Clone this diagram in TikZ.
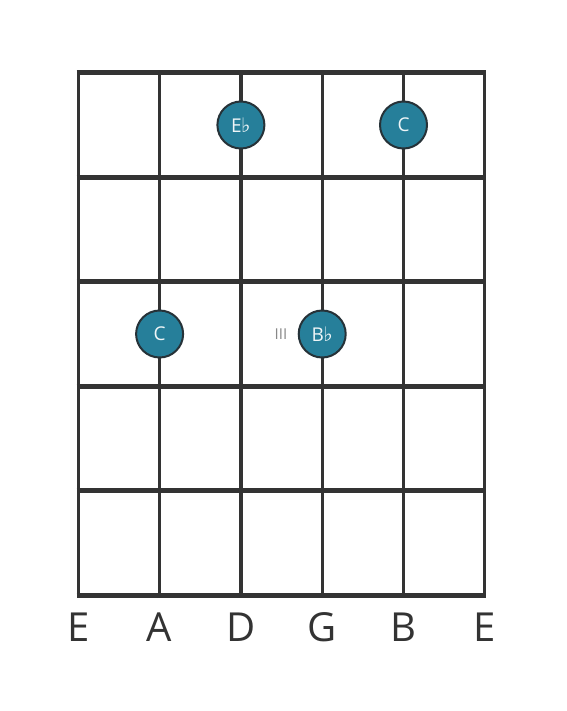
\documentclass[tikz,border=0pt]{standalone}
\usepackage{fontspec}
\setmainfont{Open Sans}
\newfontfamily\symfont{DejaVu Sans}
\definecolor{linec}{HTML}{333333}
\definecolor{dotfill}{HTML}{267F9A}
\definecolor{dotedge}{HTML}{263238}
\definecolor{lblgray}{HTML}{888888}
\newcommand{\flt}{{\symfont\fontsize{20pt}{20pt}\selectfont\raisebox{0pt}{♭}}}
\begin{document}
\begin{tikzpicture}[x=1pt,y=-1pt,
  stringline/.style={draw=linec,line width=3.2pt},
  fretline/.style={draw=linec,line width=5pt},
  notedot/.style={circle,fill=dotfill,draw=dotedge,line width=2pt,minimum size=47pt,inner sep=0pt,text=white!92!dotfill,font=\fontsize{19pt}{19pt}\selectfont},
  strlabel/.style={text=linec,font=\fontsize{40pt}{40pt}\selectfont,anchor=base},
  fretnum/.style={text=lblgray,font=\fontsize{15pt}{15pt}\selectfont}]
\useasboundingbox (0,0) rectangle (566,711);
% strings
\foreach \i/\x in {0/78.3,1/159.6,2/240.9,3/322.2,4/403.5,5/484.8}{
  \coordinate (st\i) at (\x,72.8);
  \coordinate (sb\i) at (\x,595.5);
  \draw[stringline] (st\i) -- (sb\i);
}
% frets
\foreach \j/\y in {0/72.8,1/177.3,2/281.8,3/386.3,4/490.8,5/595.5}{
  \coordinate (fl\j) at (76.7,\y);
  \coordinate (fr\j) at (486.4,\y);
  \draw[fretline] (fl\j) -- (fr\j);
}
% dots
\node[notedot] (eb) at (240.9,125) {E\kern-0.5pt\flt};
\node[notedot] (c1) at (403.5,125) {C};
\node[notedot] (c2) at (159.6,334) {C};
\node[notedot] (bb) at (322.2,334) {B\kern-0.5pt\flt};
\node[fretnum] (iii) at (281,334.5) {III};
% string names
\foreach \n/\x/\l in {n0/78.3/E,n1/159.6/A,n2/240.9/D,n3/322.2/G,n4/403.5/B,n5/484.8/E}{
  \node[strlabel] (\n) at (\x,641) {\l};
}
\end{tikzpicture}
\end{document}
